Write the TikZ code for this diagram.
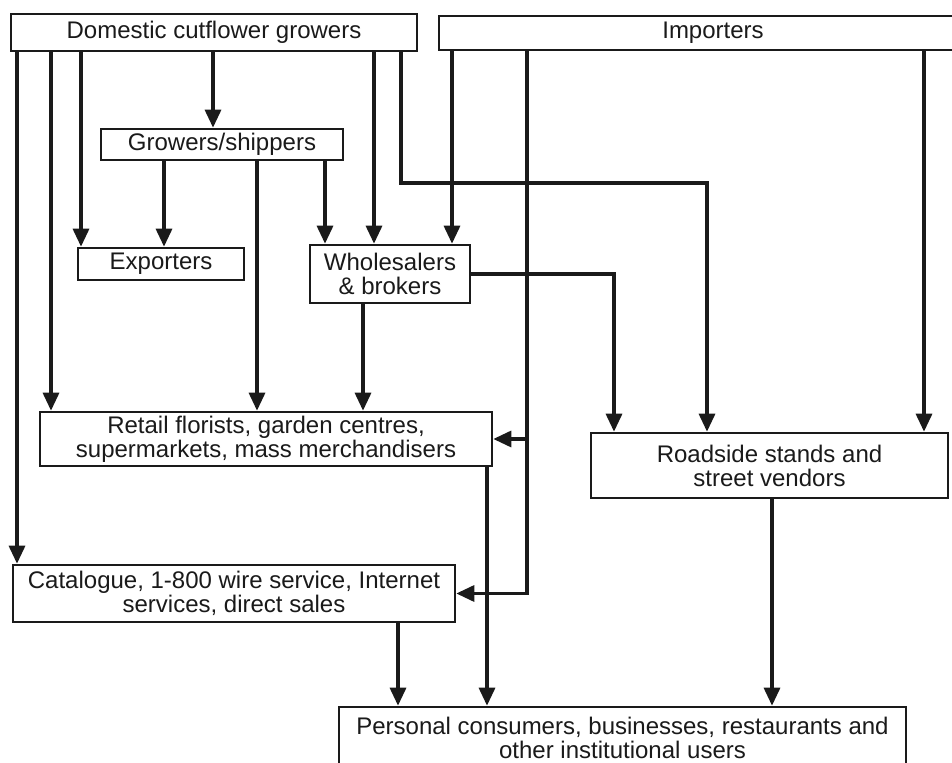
\documentclass[tikz,border=0pt]{standalone}
\usepackage{fontspec}
\setmainfont{Liberation Sans}
\usepackage{xcolor}
\usepackage{tikz}
\usetikzlibrary{arrows.meta}
\definecolor{ink}{HTML}{1A1A1A}

\begin{document}
\begin{tikzpicture}[
  x=0.5pt,y=-0.5pt,
  box/.style={draw=ink,line width=1.3pt,fill=white,align=center,inner sep=0pt,
    font=\fontsize{12}{12}\selectfont,text=ink},
  arr/.style={-{Triangle[length=9pt,width=8pt]},draw=ink,line width=1.6pt}]
\useasboundingbox (0,0) rectangle (952,763);
% boxes
\node[box,minimum width=203pt,minimum height=18.5pt] (dom) at (214,32.5) {Domestic cutflower growers};
\node[box,minimum width=274pt,minimum height=17pt] (imp) at (713,33) {Importers};
\node[box,minimum width=121pt,minimum height=15.5pt] (grw) at (222,144.5) {Growers/shippers};
\node[box,minimum width=83pt,minimum height=16pt] (exp) at (161,264) {Exporters};
\node[box,minimum width=80pt,minimum height=29pt] (whl) at (390,274) {Wholesalers\\\& brokers};
\node[box,minimum width=226pt,minimum height=27pt] (ret) at (266,439) {Retail florists, garden centres,\\supermarkets, mass merchandisers};
\node[box,minimum width=178.5pt,minimum height=32.5pt] (rsd) at (769.5,465.5) {Roadside stands and\\street vendors};
\node[box,minimum width=221pt,minimum height=28.5pt] (cat) at (234,593.5) {Catalogue, 1-800 wire service, Internet\\services, direct sales};
\node[box,minimum width=283.5pt,minimum height=31pt] (per) at (622.5,738) {Personal consumers, businesses, restaurants and\\other institutional users};
% from domestic growers
\draw[arr] (dom.south -| 17,0) -- (cat.north -| 17,0);
\draw[arr] (dom.south -| 51,0) -- (ret.north -| 51,0);
\draw[arr] (dom.south -| 81,0) -- (exp.north -| 81,0);
\draw[arr] (dom.south -| 213,0) -- (grw.north -| 213,0);
\draw[arr] (dom.south -| 374,0) -- (whl.north -| 374,0);
\draw[arr] (dom.south -| 401,0) |- (707,183) -- (rsd.north -| 707,0);
% from growers/shippers
\draw[arr] (grw.south -| 164,0) -- (exp.north -| 164,0);
\draw[arr] (grw.south -| 257,0) -- (ret.north -| 257,0);
\draw[arr] (grw.south -| 325,0) -- (whl.north -| 325,0);
% from importers
\draw[arr] (imp.south -| 452,0) -- (whl.north -| 452,0);
\draw[arr] (imp.south -| 527,0) |- (ret.east);
\draw[arr] (imp.south -| 527,0) |- (cat.east);
\draw[arr] (imp.south -| 924,0) -- (rsd.north -| 924,0);
% from wholesalers
\draw[arr] (whl.south -| 363,0) -- (ret.north -| 363,0);
\draw[arr] (whl.east) -| (rsd.north -| 614,0);
% to consumers
\draw[arr] (ret.south -| 487,0) -- (per.north -| 487,0);
\draw[arr] (cat.south -| 398,0) -- (per.north -| 398,0);
\draw[arr] (rsd.south -| 772,0) -- (per.north -| 772,0);
\end{tikzpicture}
\end{document}
